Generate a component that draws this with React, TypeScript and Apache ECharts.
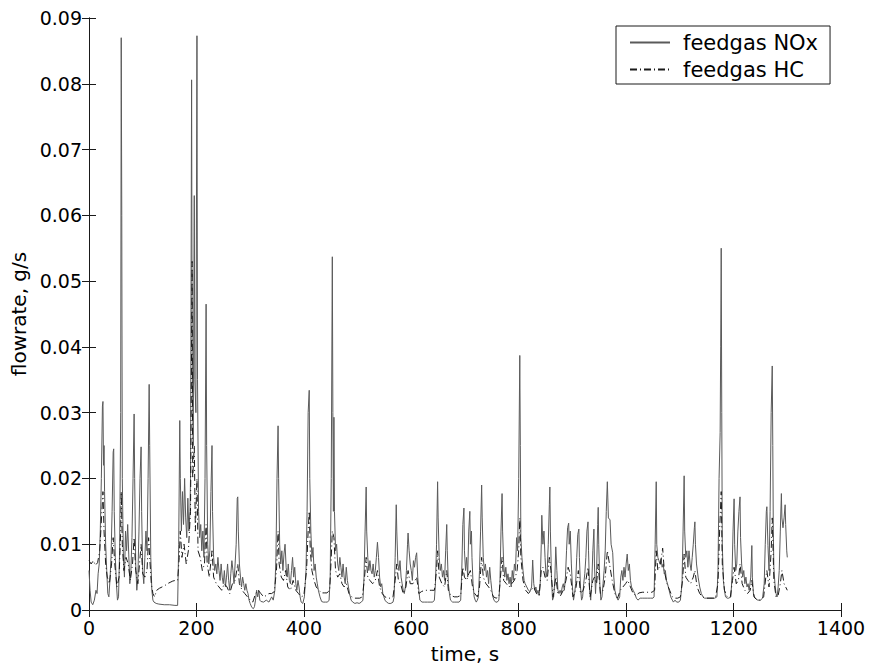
import React, { useEffect, useRef } from "react";
import * as echarts from "echarts";

const xTicks = [0, 200, 400, 600, 800, 1000, 1200, 1400];
const yTicks = [0, 0.01, 0.02, 0.03, 0.04, 0.05, 0.06, 0.07, 0.08, 0.09];
const seriesNames = ["feedgas NOx", "feedgas HC"];

// feedgas NOx flowrate [time s, g/s]
const noxData: [number, number][] = [
  [0,0.0060],[2,0.0030],[4,0.0012],[7,0.0008],[10,0.0015],[13,0.0030],[15,0.0025],[17,0.0055],[19,0.0070],[21,0.0120],
  [23,0.0200],[25,0.0310],[26,0.0317],[27,0.0220],[28,0.0250],[29,0.0180],[31,0.0100],[33,0.0060],[35,0.0025],[37,0.0020],
  [39,0.0045],[41,0.0080],[43,0.0150],[45,0.0240],[46,0.0245],[47,0.0150],[49,0.0080],[51,0.0040],[53,0.0015],[55,0.0020],
  [57,0.0090],[59,0.0300],[60,0.0870],[61,0.0600],[62,0.0200],[64,0.0080],[66,0.0050],[68,0.0120],[70,0.0090],[72,0.0130],
  [74,0.0085],[76,0.0040],[78,0.0060],[80,0.0110],[82,0.0200],[84,0.0298],[85,0.0200],[87,0.0070],[89,0.0030],[91,0.0050],
  [93,0.0120],[95,0.0200],[97,0.0248],[98,0.0150],[100,0.0060],[102,0.0040],[104,0.0080],[106,0.0120],[108,0.0090],[110,0.0200],
  [112,0.0343],[113,0.0250],[115,0.0080],[117,0.0030],[119,0.0015],[121,0.0012],[125,0.0010],[130,0.0009],[140,0.0008],[150,0.0008],
  [160,0.0007],[165,0.0007],[167,0.0100],[169,0.0288],[170,0.0200],[172,0.0120],[174,0.0180],[176,0.0130],[178,0.0200],[180,0.0140],
  [182,0.0110],[184,0.0170],[186,0.0120],[188,0.0150],[189,0.0200],[191,0.0806],[192,0.0400],[194,0.0250],[196,0.0630],[197,0.0350],
  [199,0.0300],[201,0.0873],[202,0.0350],[204,0.0150],[206,0.0110],[208,0.0130],[210,0.0090],[212,0.0120],[214,0.0080],[216,0.0200],
  [218,0.0465],[219,0.0250],[221,0.0100],[223,0.0070],[225,0.0090],[227,0.0180],[229,0.0250],[230,0.0150],[232,0.0080],[234,0.0060],
  [236,0.0070],[238,0.0055],[240,0.0080],[242,0.0060],[244,0.0045],[246,0.0070],[248,0.0050],[250,0.0040],[252,0.0060],[254,0.0035],
  [256,0.0050],[258,0.0070],[260,0.0045],[262,0.0030],[264,0.0055],[266,0.0075],[268,0.0060],[270,0.0040],[272,0.0070],[274,0.0100],
  [276,0.0170],[277,0.0172],[278,0.0120],[280,0.0070],[282,0.0050],[284,0.0035],[286,0.0050],[288,0.0040],[290,0.0030],[292,0.0040],
  [294,0.0030],[296,0.0025],[298,0.0015],[300,0.0010],[303,0.0004],[306,0.0002],[308,0.0005],[310,0.0015],[312,0.0030],[314,0.0020],
  [316,0.0030],[318,0.0015],[320,0.0013],[325,0.0012],[330,0.0015],[335,0.0012],[340,0.0020],[343,0.0015],[346,0.0030],[348,0.0080],
  [350,0.0200],[352,0.0280],[353,0.0200],[355,0.0100],[357,0.0070],[359,0.0090],[361,0.0060],[363,0.0085],[365,0.0100],[367,0.0065],
  [369,0.0050],[371,0.0070],[373,0.0045],[375,0.0040],[377,0.0060],[379,0.0080],[381,0.0050],[383,0.0065],[385,0.0040],[387,0.0030],
  [389,0.0045],[391,0.0035],[393,0.0020],[395,0.0012],[398,0.0010],[401,0.0020],[404,0.0060],[406,0.0150],[408,0.0300],[410,0.0334],
  [411,0.0200],[413,0.0120],[415,0.0080],[417,0.0095],[419,0.0060],[421,0.0070],[423,0.0050],[425,0.0040],[427,0.0030],[430,0.0020],
  [433,0.0013],[436,0.0012],[440,0.0012],[444,0.0012],[447,0.0015],[449,0.0050],[451,0.0200],[453,0.0537],[454,0.0300],[455,0.0150],
  [456,0.0293],[457,0.0150],[459,0.0090],[461,0.0100],[463,0.0070],[465,0.0060],[467,0.0080],[469,0.0065],[471,0.0050],[473,0.0070],
  [475,0.0050],[477,0.0040],[479,0.0065],[481,0.0045],[483,0.0035],[485,0.0025],[488,0.0015],[491,0.0012],[495,0.0010],[499,0.0011],
  [503,0.0010],[507,0.0012],[510,0.0015],[512,0.0050],[514,0.0120],[516,0.0187],[517,0.0120],[519,0.0080],[521,0.0060],[523,0.0075],
  [525,0.0060],[527,0.0055],[529,0.0070],[531,0.0050],[533,0.0060],[535,0.0080],[537,0.0103],[539,0.0080],[541,0.0050],[543,0.0035],
  [545,0.0040],[547,0.0025],[549,0.0020],[551,0.0015],[554,0.0012],[558,0.0010],[562,0.0010],[566,0.0012],[568,0.0020],[570,0.0080],
  [572,0.0160],[573,0.0120],[575,0.0070],[577,0.0060],[579,0.0075],[581,0.0050],[583,0.0040],[585,0.0030],[587,0.0025],[589,0.0035],
  [591,0.0060],[593,0.0100],[594,0.0117],[596,0.0090],[598,0.0070],[600,0.0060],[602,0.0045],[604,0.0075],[606,0.0065],[608,0.0080],
  [610,0.0087],[612,0.0050],[614,0.0030],[616,0.0015],[620,0.0012],[625,0.0012],[630,0.0012],[635,0.0012],[640,0.0012],[643,0.0015],
  [645,0.0040],[647,0.0100],[649,0.0195],[650,0.0140],[652,0.0080],[654,0.0060],[656,0.0070],[658,0.0050],[660,0.0060],[662,0.0045],
  [664,0.0090],[666,0.0130],[667,0.0090],[669,0.0040],[671,0.0025],[673,0.0015],[677,0.0012],[681,0.0012],[685,0.0012],[689,0.0012],
  [692,0.0015],[694,0.0060],[696,0.0130],[698,0.0155],[699,0.0090],[701,0.0060],[703,0.0080],[705,0.0050],[707,0.0120],[709,0.0150],
  [710,0.0100],[712,0.0120],[713,0.0080],[715,0.0040],[717,0.0020],[719,0.0015],[721,0.0012],[723,0.0015],[725,0.0020],[727,0.0060],
  [729,0.0120],[731,0.0190],[732,0.0140],[734,0.0080],[736,0.0060],[738,0.0070],[740,0.0050],[742,0.0060],[744,0.0040],[746,0.0065],
  [748,0.0045],[750,0.0030],[752,0.0020],[754,0.0015],[757,0.0012],[760,0.0012],[763,0.0015],[765,0.0040],[767,0.0120],[769,0.0177],
  [770,0.0120],[772,0.0070],[774,0.0050],[776,0.0065],[778,0.0045],[780,0.0055],[782,0.0040],[784,0.0050],[786,0.0035],[788,0.0060],
  [790,0.0045],[792,0.0070],[794,0.0060],[796,0.0110],[798,0.0090],[800,0.0200],[802,0.0387],[803,0.0250],[804,0.0110],[806,0.0080],
  [808,0.0060],[810,0.0045],[812,0.0040],[815,0.0035],[818,0.0030],[821,0.0028],[824,0.0035],[826,0.0076],[828,0.0040],[830,0.0030],
  [832,0.0035],[834,0.0025],[836,0.0030],[838,0.0022],[840,0.0040],[842,0.0100],[843,0.0144],[845,0.0100],[847,0.0120],[849,0.0080],
  [851,0.0050],[853,0.0060],[855,0.0100],[857,0.0160],[858,0.0187],[859,0.0120],[861,0.0050],[863,0.0015],[865,0.0020],[867,0.0040],
  [869,0.0096],[871,0.0060],[873,0.0030],[875,0.0025],[877,0.0030],[879,0.0025],[881,0.0035],[883,0.0040],[885,0.0030],[887,0.0050],
  [889,0.0090],[891,0.0125],[893,0.0132],[894,0.0100],[896,0.0120],[898,0.0070],[900,0.0035],[902,0.0015],[904,0.0025],[906,0.0040],
  [908,0.0080],[910,0.0115],[912,0.0123],[913,0.0080],[915,0.0035],[917,0.0015],[919,0.0020],[921,0.0040],[923,0.0055],[925,0.0080],
  [927,0.0120],[929,0.0134],[930,0.0090],[932,0.0030],[934,0.0015],[936,0.0040],[938,0.0090],[940,0.0123],[941,0.0070],[943,0.0025],
  [945,0.0060],[947,0.0130],[948,0.0156],[949,0.0100],[951,0.0040],[953,0.0015],[955,0.0020],[957,0.0040],[959,0.0060],[961,0.0090],
  [963,0.0150],[965,0.0195],[967,0.0140],[970,0.0137],[972,0.0100],[975,0.0087],[977,0.0050],[979,0.0030],[982,0.0020],[985,0.0015],
  [988,0.0020],[990,0.0050],[992,0.0060],[994,0.0045],[996,0.0065],[998,0.0050],[1000,0.0070],[1002,0.0085],[1004,0.0060],[1006,0.0070],
  [1008,0.0045],[1010,0.0035],[1013,0.0030],[1016,0.0025],[1019,0.0018],[1022,0.0015],[1026,0.0018],[1030,0.0018],[1035,0.0018],[1040,0.0018],
  [1045,0.0018],[1050,0.0018],[1052,0.0020],[1054,0.0100],[1056,0.0195],[1057,0.0100],[1059,0.0080],[1061,0.0075],[1063,0.0070],[1065,0.0078],
  [1067,0.0065],[1069,0.0070],[1071,0.0055],[1073,0.0060],[1075,0.0045],[1077,0.0040],[1080,0.0030],[1083,0.0020],[1086,0.0015],[1088,0.0012],
  [1091,0.0015],[1094,0.0012],[1098,0.0012],[1101,0.0015],[1104,0.0040],[1106,0.0120],[1108,0.0204],[1109,0.0120],[1111,0.0080],[1113,0.0090],
  [1115,0.0065],[1117,0.0090],[1119,0.0070],[1121,0.0060],[1123,0.0080],[1125,0.0100],[1127,0.0125],[1128,0.0134],[1129,0.0100],[1131,0.0070],
  [1134,0.0050],[1137,0.0035],[1140,0.0025],[1143,0.0020],[1146,0.0018],[1150,0.0018],[1155,0.0018],[1160,0.0018],[1165,0.0018],[1169,0.0020],
  [1171,0.0060],[1173,0.0200],[1175,0.0270],[1176,0.0400],[1177,0.0550],[1178,0.0300],[1179,0.0100],[1181,0.0045],[1183,0.0030],[1185,0.0020],
  [1188,0.0018],[1191,0.0018],[1195,0.0020],[1197,0.0050],[1199,0.0120],[1201,0.0169],[1202,0.0100],[1204,0.0060],[1206,0.0070],[1208,0.0120],
  [1210,0.0150],[1212,0.0172],[1213,0.0110],[1215,0.0070],[1217,0.0050],[1219,0.0060],[1221,0.0040],[1223,0.0050],[1225,0.0035],[1227,0.0040],
  [1229,0.0030],[1232,0.0050],[1234,0.0098],[1235,0.0050],[1237,0.0025],[1240,0.0018],[1245,0.0015],[1250,0.0015],[1254,0.0018],[1257,0.0040],
  [1259,0.0100],[1261,0.0150],[1262,0.0157],[1264,0.0098],[1266,0.0060],[1268,0.0150],[1270,0.0300],[1272,0.0371],[1273,0.0250],[1274,0.0120],
  [1275,0.0065],[1277,0.0040],[1279,0.0025],[1281,0.0020],[1283,0.0035],[1285,0.0060],[1287,0.0120],[1289,0.0177],[1290,0.0140],[1292,0.0125],
  [1294,0.0140],[1296,0.0160],[1297,0.0130],[1299,0.0090],[1300,0.0080]
];

// feedgas HC flowrate [time s, g/s]
const hcData: [number, number][] = [
  [0,0.0075],[4,0.0070],[8,0.0075],[12,0.0068],[16,0.0072],[20,0.0090],[24,0.0150],[26,0.0180],[28,0.0120],[31,0.0070],
  [34,0.0050],[38,0.0040],[42,0.0070],[45,0.0110],[48,0.0070],[52,0.0035],[56,0.0050],[59,0.0120],[60,0.0180],[62,0.0100],
  [65,0.0060],[69,0.0080],[73,0.0070],[77,0.0045],[81,0.0070],[84,0.0110],[87,0.0060],[91,0.0040],[94,0.0070],[97,0.0100],
  [100,0.0055],[104,0.0050],[108,0.0060],[111,0.0110],[113,0.0080],[116,0.0040],[119,0.0025],[122,0.0020],[126,0.0030],[131,0.0033],
  [136,0.0035],[141,0.0037],[146,0.0040],[151,0.0042],[156,0.0044],[161,0.0045],[165,0.0045],[168,0.0080],[170,0.0120],[173,0.0080],
  [177,0.0100],[181,0.0070],[185,0.0090],[189,0.0150],[192,0.0530],[193,0.0200],[196,0.0250],[198,0.0120],[201,0.0200],[203,0.0090],
  [207,0.0080],[211,0.0060],[215,0.0070],[218,0.0130],[220,0.0070],[224,0.0050],[229,0.0090],[232,0.0050],[237,0.0040],[242,0.0035],
  [247,0.0030],[252,0.0040],[257,0.0035],[262,0.0025],[267,0.0040],[272,0.0045],[277,0.0070],[280,0.0040],[285,0.0030],[290,0.0025],
  [295,0.0020],[300,0.0015],[305,0.0012],[310,0.0025],[315,0.0030],[320,0.0025],[325,0.0020],[330,0.0022],[335,0.0025],[340,0.0025],
  [345,0.0028],[349,0.0060],[352,0.0120],[354,0.0070],[358,0.0050],[362,0.0045],[366,0.0060],[370,0.0035],[375,0.0030],[380,0.0045],
  [385,0.0030],[390,0.0025],[395,0.0020],[400,0.0022],[405,0.0060],[408,0.0120],[410,0.0150],[412,0.0090],[415,0.0060],[419,0.0045],
  [423,0.0035],[428,0.0030],[433,0.0026],[438,0.0026],[443,0.0026],[448,0.0030],[451,0.0080],[453,0.0120],[456,0.0110],[459,0.0060],
  [463,0.0050],[467,0.0055],[471,0.0040],[475,0.0035],[479,0.0040],[484,0.0025],[489,0.0020],[494,0.0018],[499,0.0018],[504,0.0018],
  [509,0.0020],[513,0.0050],[516,0.0080],[519,0.0050],[523,0.0045],[528,0.0040],[533,0.0045],[537,0.0060],[541,0.0035],[546,0.0025],
  [551,0.0020],[556,0.0018],[561,0.0018],[566,0.0020],[570,0.0045],[573,0.0070],[576,0.0045],[580,0.0040],[585,0.0025],[590,0.0035],
  [594,0.0060],[598,0.0040],[603,0.0040],[607,0.0045],[610,0.0050],[614,0.0025],[619,0.0028],[625,0.0030],[631,0.0030],[637,0.0030],
  [643,0.0030],[647,0.0060],[649,0.0090],[652,0.0050],[657,0.0040],[662,0.0035],[666,0.0060],[669,0.0030],[674,0.0022],[680,0.0020],
  [686,0.0020],[692,0.0022],[696,0.0065],[699,0.0050],[703,0.0045],[707,0.0055],[710,0.0060],[714,0.0035],[718,0.0025],[723,0.0020],
  [727,0.0035],[731,0.0080],[734,0.0050],[739,0.0040],[744,0.0035],[748,0.0030],[753,0.0020],[758,0.0018],[763,0.0020],[767,0.0060],
  [769,0.0080],[772,0.0045],[777,0.0040],[782,0.0035],[787,0.0040],[792,0.0045],[797,0.0060],[800,0.0090],[802,0.0140],[804,0.0080],
  [808,0.0045],[813,0.0030],[818,0.0025],[823,0.0030],[828,0.0035],[833,0.0025],[838,0.0022],[842,0.0060],[845,0.0065],[849,0.0050],
  [853,0.0045],[857,0.0080],[860,0.0060],[864,0.0020],[869,0.0050],[873,0.0025],[878,0.0022],[883,0.0030],[888,0.0045],[892,0.0065],
  [896,0.0055],[901,0.0020],[906,0.0030],[911,0.0060],[915,0.0025],[920,0.0030],[925,0.0045],[929,0.0065],[933,0.0020],[938,0.0045],
  [941,0.0050],[945,0.0040],[948,0.0070],[952,0.0025],[957,0.0030],[961,0.0050],[965,0.0090],[969,0.0070],[974,0.0045],[979,0.0025],
  [984,0.0018],[989,0.0030],[994,0.0035],[999,0.0040],[1003,0.0045],[1008,0.0035],[1013,0.0025],[1018,0.0022],[1024,0.0026],[1030,0.0027],
  [1036,0.0027],[1042,0.0027],[1048,0.0027],[1053,0.0030],[1056,0.0090],[1059,0.0060],[1064,0.0070],[1068,0.0094],[1071,0.0060],[1076,0.0040],
  [1081,0.0030],[1086,0.0020],[1091,0.0018],[1096,0.0018],[1101,0.0020],[1105,0.0045],[1108,0.0085],[1111,0.0050],[1115,0.0045],[1120,0.0040],
  [1125,0.0050],[1128,0.0060],[1132,0.0035],[1137,0.0025],[1142,0.0020],[1148,0.0018],[1154,0.0018],[1160,0.0018],[1166,0.0018],[1171,0.0040],
  [1174,0.0120],[1177,0.0180],[1179,0.0070],[1183,0.0030],[1188,0.0020],[1194,0.0020],[1198,0.0045],[1201,0.0065],[1205,0.0040],[1209,0.0045],
  [1212,0.0070],[1216,0.0040],[1221,0.0030],[1226,0.0025],[1231,0.0030],[1234,0.0045],[1238,0.0020],[1244,0.0015],[1250,0.0015],[1256,0.0020],
  [1260,0.0050],[1262,0.0060],[1266,0.0035],[1270,0.0090],[1272,0.0140],[1275,0.0045],[1279,0.0020],[1283,0.0022],[1287,0.0040],[1290,0.0060],
  [1294,0.0040],[1297,0.0035],[1300,0.0030]
];

const FONT = "DejaVu Sans";

export default function App() {
  const ref = useRef<HTMLDivElement>(null);
  useEffect(() => {
    if (!ref.current) return;
    const chart = echarts.init(ref.current, undefined, { renderer: "svg" });
    const axisLine = { show: true, lineStyle: { color: "#1a1a1a", width: 1 } };
    const tick = { show: true, inside: true, length: 7, lineStyle: { color: "#1a1a1a", width: 1 } };
    const xMin = xTicks[0];
    const xMax = xTicks[xTicks.length - 1];
    const xInt = xTicks[1] - xTicks[0];
    const yMin = yTicks[0];
    const yMax = yTicks[yTicks.length - 1];
    const yInt = yTicks[1] - yTicks[0];
    chart.setOption({
      animation: false,
      backgroundColor: "#ffffff",
      grid: { left: 89, right: 30, top: 18, bottom: 59, containLabel: false },
      legend: {
        orient: "vertical",
        left: 616,
        top: 26,
        padding: [6, 12, 4, 13],
        itemGap: 6,
        itemWidth: 40,
        itemHeight: 14,
        borderColor: "#1a1a1a",
        borderWidth: 1,
        backgroundColor: "#ffffff",
        borderRadius: 0,
        itemStyle: { opacity: 0, borderWidth: 0 },
        data: seriesNames,
        textStyle: { fontFamily: FONT, fontSize: 21, color: "#000", padding: [0, 0, 0, 8] },
      },
      xAxis: [
        {
          type: "value",
          min: xMin,
          max: xMax,
          interval: xInt,
          position: "bottom",
          axisLine,
          axisTick: tick,
          splitLine: { show: false },
          axisLabel: {
            fontFamily: FONT,
            fontSize: 19,
            color: "#000",
            margin: 8,
            formatter: (v: number) => String(Math.round(v)),
          },
          name: "time, s",
          nameLocation: "middle",
          nameGap: 34,
          nameTextStyle: { fontFamily: FONT, fontSize: 20, color: "#000" },
        },
        {
          type: "value",
          min: xMin,
          max: xMax,
          interval: xInt,
          position: "top",
          axisLine,
          axisTick: tick,
          splitLine: { show: false },
          axisLabel: { show: false },
        },
      ],
      yAxis: [
        {
          type: "value",
          min: yMin,
          max: yMax,
          interval: yInt,
          position: "left",
          axisLine,
          axisTick: tick,
          splitLine: { show: false },
          axisLabel: {
            fontFamily: FONT,
            fontSize: 19,
            color: "#000",
            margin: 7,
            formatter: (v: number) => (v === 0 ? "0" : v.toFixed(2)),
          },
          name: "flowrate, g/s",
          nameLocation: "middle",
          nameGap: 51,
          nameTextStyle: { fontFamily: FONT, fontSize: 20, color: "#000" },
        },
        {
          type: "value",
          min: yMin,
          max: yMax,
          interval: yInt,
          position: "right",
          axisLine,
          axisTick: tick,
          splitLine: { show: false },
          axisLabel: { show: false },
        },
      ],
      series: [
        {
          name: seriesNames[0],
          type: "line",
          data: noxData,
          symbol: "none",
          showSymbol: false,
          lineStyle: { color: "#5a5a5a", width: 1, type: "solid" },
          itemStyle: { color: "#5a5a5a" },
          z: 2,
        },
        {
          name: seriesNames[1],
          type: "line",
          data: hcData,
          symbol: "none",
          showSymbol: false,
          lineStyle: { color: "#1a1a1a", width: 1, type: [7, 3, 1, 3] },
          itemStyle: { color: "#1a1a1a" },
          z: 3,
        },
      ],
    });
    return () => chart.dispose();
  }, []);
  return (
    <div
      ref={ref}
      style={{ position: "fixed", left: 0, top: 0, width: 871, height: 669, background: "#fff" }}
    />
  );
}
